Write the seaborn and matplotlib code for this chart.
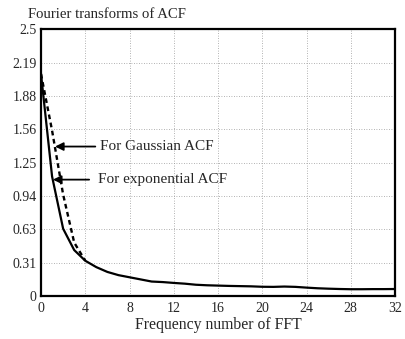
import matplotlib
matplotlib.use("agg")
import matplotlib.pyplot as plt
import seaborn as sns
import pandas as pd

# frequency numbers and spectra
freq_exp = [0, 1, 2, 3, 4, 5, 6, 7, 8, 9, 10, 11, 12, 13, 14, 15, 16,
            17, 18, 19, 20, 21, 22, 23, 24, 25, 26, 27, 28, 29, 30, 31, 32]
ft_exp = [2.08, 1.12, 0.63, 0.43, 0.33, 0.27, 0.225, 0.195, 0.175, 0.155, 0.135,
          0.13, 0.122, 0.115, 0.105, 0.10, 0.097, 0.094, 0.092, 0.09, 0.086,
          0.085, 0.088, 0.085, 0.078, 0.072, 0.068, 0.065, 0.063, 0.063,
          0.064, 0.064, 0.065]
freq_gauss = [0, 1, 2, 3, 4]
ft_gauss = [2.08, 1.55, 0.95, 0.50, 0.33]

y_ticks = [0, 0.3125, 0.625, 0.9375, 1.25, 1.5625, 1.875, 2.1875, 2.5]
y_tick_labels = ["0", "0.31", "0.63", "0.94", "1.25", "1.56", "1.88", "2.19", "2.5"]
x_ticks = [0, 4, 8, 12, 16, 20, 24, 28, 32]

sns.set_style("white")
plt.rcParams["font.family"] = ["Liberation Serif", "DejaVu Serif"]

df_exp = pd.DataFrame({"freq": freq_exp, "ft": ft_exp})
df_gauss = pd.DataFrame({"freq": freq_gauss, "ft": ft_gauss})

fig = plt.figure(figsize=(4.06, 3.39), dpi=100)
ax = fig.add_axes([0.101, 0.127, 0.872, 0.787])

sns.lineplot(data=df_gauss, x="freq", y="ft", ax=ax, color="black",
             linestyle=(0, (2, 1.5)), linewidth=1.7)
sns.lineplot(data=df_exp, x="freq", y="ft", ax=ax, color="black", linewidth=1.6)

ax.set_xlim(0, 32)
ax.set_ylim(0, 2.5)
ax.set_xticks(x_ticks)
ax.set_yticks(y_ticks)
ax.set_yticklabels(y_tick_labels)
ax.tick_params(axis="both", length=0, labelsize=10)
ax.tick_params(axis="x", pad=4)
ax.tick_params(axis="y", pad=3)
ax.grid(True, color="#999999", linestyle=(0, (1, 2)), linewidth=0.6)
for s in ax.spines.values():
    s.set_color("black")
    s.set_linewidth(1.6)

ax.set_xlabel("Frequency number of FFT", fontsize=11.3, labelpad=2)
ax.set_ylabel("")
fig.text(0.069, 0.957, "Fourier transforms of ACF", fontsize=10.6, va="center", ha="left")

ax.annotate("For Gaussian ACF", xy=(1.27, 1.40), xytext=(5.33, 1.40),
            fontsize=11, va="center", ha="left",
            arrowprops=dict(arrowstyle="-|>", color="black", lw=1.3,
                            mutation_scale=12, shrinkA=1, shrinkB=0))
ax.annotate("For exponential ACF", xy=(1.08, 1.09), xytext=(5.15, 1.09),
            fontsize=11, va="center", ha="left",
            arrowprops=dict(arrowstyle="-|>", color="black", lw=1.3,
                            mutation_scale=12, shrinkA=4, shrinkB=0))

fig.savefig("out.png", dpi=100)
